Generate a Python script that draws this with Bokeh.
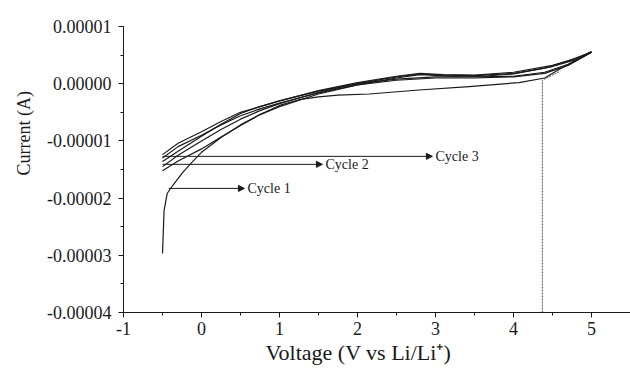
import numpy as np
from bokeh.plotting import figure
from bokeh.models import (ColumnDataSource, Arrow, NormalHead, Label, Range1d,
                          SingleIntervalTicker, PrintfTickFormatter, Title)
from bokeh.embed import file_html
from bokeh.resources import INLINE

E = 1e-5  # values below are in units of 1e-5 A

# Cycle 1: initial steep rise at -0.5 V then anodic branch to 5 V
c1_an_v = [-0.50, -0.48, -0.44, -0.37, -0.24, -0.12, 0.00, 0.25, 0.50, 0.75, 1.00, 1.50, 2.00, 2.50, 2.80, 3.20, 3.60, 4.00, 4.40, 4.70, 5.00]
c1_an_i = [-2.97, -2.22, -1.92, -1.78, -1.55, -1.37, -1.20, -0.94, -0.72, -0.54, -0.40, -0.18, -0.02, 0.10, 0.16, 0.13, 0.13, 0.17, 0.27, 0.40, 0.55]
# Cycle 1: cathodic branch back to -0.5 V
c1_ca_v = [5.00, 4.80, 4.60, 4.40, 4.07, 3.43, 2.79, 2.15, 1.75, 1.50, 1.25, 1.00, 0.75, 0.50, 0.25, 0.00, -0.30, -0.50]
c1_ca_i = [0.55, 0.40, 0.26, 0.10, 0.02, -0.05, -0.11, -0.18, -0.20, -0.23, -0.28, -0.38, -0.54, -0.73, -0.93, -1.14, -1.35, -1.52]

c2_an_v = [-0.50, -0.30, 0.00, 0.25, 0.50, 0.75, 1.00, 1.50, 2.00, 2.50, 2.80, 3.10, 3.50, 4.00, 4.50, 4.80, 5.00]
c2_an_i = [-1.45, -1.25, -1.00, -0.80, -0.62, -0.47, -0.35, -0.15, 0.00, 0.12, 0.17, 0.15, 0.14, 0.18, 0.30, 0.42, 0.55]
c2_ca_v = [5.00, 4.70, 4.40, 4.00, 3.50, 3.00, 2.50, 2.00, 1.50, 1.00, 0.75, 0.50, 0.25, 0.00, -0.30, -0.50]
c2_ca_i = [0.55, 0.32, 0.18, 0.12, 0.10, 0.10, 0.06, -0.02, -0.16, -0.34, -0.44, -0.56, -0.72, -0.90, -1.10, -1.30]

c3_an_v = [-0.50, -0.30, 0.00, 0.25, 0.50, 0.75, 1.00, 1.50, 2.00, 2.50, 2.80, 3.10, 3.50, 4.00, 4.50, 4.80, 5.00]
c3_an_i = [-1.36, -1.18, -0.92, -0.71, -0.52, -0.40, -0.30, -0.12, 0.02, 0.13, 0.18, 0.16, 0.15, 0.20, 0.32, 0.44, 0.56]
c3_ca_v = [5.00, 4.70, 4.40, 4.00, 3.50, 3.00, 2.50, 2.00, 1.50, 1.00, 0.75, 0.50, 0.25, 0.00, -0.30, -0.50]
c3_ca_i = [0.56, 0.34, 0.20, 0.13, 0.12, 0.12, 0.08, 0.00, -0.13, -0.30, -0.40, -0.50, -0.66, -0.84, -1.04, -1.24]

# Open-circuit start (dotted)
ocv_v = [4.37, 4.37, 4.60]
ocv_i = [-4.00, 0.06, 0.22]

# Annotations
cyc_names = ["Cycle 1", "Cycle 2", "Cycle 3"]
cyc_x0 = [-0.42, -0.50, -0.50]
cyc_x1 = [0.55, 1.55, 2.96]
cyc_y = [-1.83, -1.41, -1.27]

x_title = "Voltage (V vs Li/Li\u207a)"
y_title = "Current (A)"

x_ticks_interval = 1
y_ticks_interval = 1e-5

FONT = "Liberation Serif"

p = figure(width=630, height=369, output_backend="svg", toolbar_location=None,
           x_range=Range1d(-1, 5.5), y_range=Range1d(-4e-5, 1e-5),
           min_border_left=123, min_border_right=0, min_border_top=26,
           min_border_bottom=57)
p.outline_line_color = None
p.grid.visible = False
p.background_fill_color = "white"
p.border_fill_color = "white"

col = "#1a1a1a"
for v, i in [(c1_an_v, c1_an_i), (c1_ca_v, c1_ca_i), (c2_an_v, c2_an_i),
             (c2_ca_v, c2_ca_i), (c3_an_v, c3_an_i), (c3_ca_v, c3_ca_i)]:
    p.line(v, np.array(i) * E, line_color=col, line_width=1.2,
           line_join="round")

p.line(ocv_v, np.array(ocv_i) * E, line_color="#555555", line_width=1.0,
       line_dash="2 1")

src = ColumnDataSource(dict(x0=cyc_x0, x1=cyc_x1, y=np.array(cyc_y) * E))
p.add_layout(Arrow(end=NormalHead(size=6, fill_color=col, line_color=col, line_width=1),
                   x_start="x0", y_start="y", x_end="x1", y_end="y",
                   line_color=col, line_width=1, source=src))
for name, x1, y in zip(cyc_names, cyc_x1, cyc_y):
    p.add_layout(Label(x=x1 + 0.04, y=y * E, text=name, text_font=FONT,
                       text_font_size="14px", text_baseline="middle",
                       text_color=col))

xa = p.xaxis[0]
ya = p.yaxis[0]
xa.ticker = SingleIntervalTicker(interval=x_ticks_interval, num_minor_ticks=2)
ya.ticker = SingleIntervalTicker(interval=y_ticks_interval, num_minor_ticks=2)
xa.formatter = PrintfTickFormatter(format="%d")
ya.formatter = PrintfTickFormatter(format="%.5f")
for ax in (xa, ya):
    ax.axis_line_color = col
    ax.axis_line_width = 1
    ax.major_tick_line_color = col
    ax.minor_tick_line_color = col
    ax.major_tick_in = 0
    ax.major_tick_out = 5
    ax.minor_tick_in = 0
    ax.minor_tick_out = 3
    ax.major_label_text_font = FONT
    ax.major_label_text_font_size = "18px"
    ax.major_label_text_color = col
ya.major_label_standoff = 7
xa.major_label_standoff = 4

p.add_layout(Title(text=y_title, align="left", offset=137, text_font=FONT,
                   text_font_size="18px", text_font_style="normal",
                   text_color=col, standoff=22), "left")
p.add_layout(Title(text=x_title, align="left", offset=142, text_font=FONT,
                   text_font_size="22px", text_font_style="normal",
                   text_color=col, standoff=0), "below")

open("out.html", "w").write(file_html(p, INLINE))
